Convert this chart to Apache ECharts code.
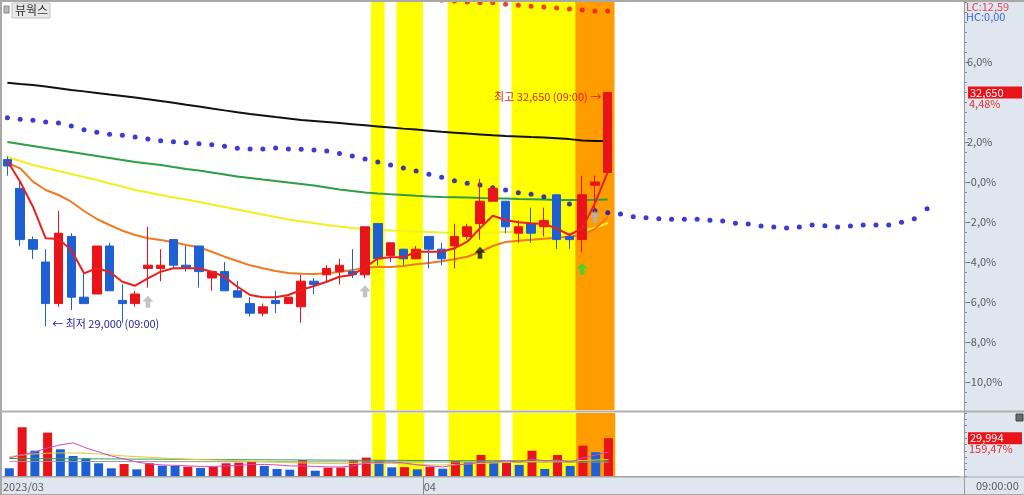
<!DOCTYPE html>
<html><head><meta charset="utf-8">
<script src="https://cdn.jsdelivr.net/npm/echarts@6/dist/echarts.min.js"></script>
<style>html,body{margin:0;padding:0;background:#fff}#c{width:1024px;height:495px}</style>
</head><body><div id="c"></div>
<script>
// ---------- data ----------
const BASE = 31250;               // 0% reference price
const SLOTS = 75;                 // category slots (incl. future area)
// candles: [open, close, low, high]
const candles = [
 [31600,31500,31350,31650],[31150,30350,30250,31250],[30350,30200,30050,30400],[30000,29350,29000,30200],
 [29350,30450,29300,30800],[30400,29450,29250,30450],[29450,29350,29350,29850],[29500,30250,29500,30250],
 [30250,29550,29550,30300],[29400,29350,29050,29650],[29350,29500,29300,29550],[29900,29950,29600,30550],
 [29900,29950,29700,30200],[30350,29950,29900,30350],[29950,29900,29850,30250],[30250,29850,29600,30250],
 [29750,29850,29550,29850],[29850,29550,29550,30000],[29550,29450,29450,29700],[29350,29200,29150,29450],
 [29200,29300,29150,29350],[29400,29350,29200,29550],[29350,29450,29350,29450],[29300,29700,29050,29800],
 [29700,29650,29500,29750],[29800,29900,29700,29950],[29850,29950,29650,30050],[29850,29800,29750,30200],
 [29800,30550,29750,30550],[30600,30050,29950,30600],[30100,30300,30000,30300],[30200,30050,29950,30200],
 [30050,30200,30050,30250],[30400,30200,29900,30400],[30200,30050,29950,30300],[30250,30400,29900,30600],
 [30400,30550,30350,30600],[30600,30950,30350,31300],[30950,31150,30950,31200],[30950,30550,30450,30950],
 [30450,30550,30300,30650],[30600,30450,30300,30850],[30550,30650,30400,30850],[31050,30350,30200,31050],
 [30400,30350,30200,30450],[30350,31050,30150,31350],[31200,31250,30800,31350],[31400,32650,31400,32650]
];
const ma5 = [31578,31255,30864,30370,30359,30188,29823,29902,29848,29692,29630,29745,29848,29902,29902,29902,
 29848,29770,29614,29484,29448,29448,29484,29563,29625,29692,29770,29797,29917,30055,30073,30073,
 30161,30161,30161,30214,30317,30527,30723,30656,30620,30605,30594,30527,30422,30527,30917,31406];
const ma10 = [31547,31464,31255,31125,31047,30942,30797,30672,30578,30489,30422,30370,30344,30308,30266,30230,
 30161,30083,30016,29948,29902,29859,29828,29817,29813,29823,29844,29875,29906,29927,29922,29938,
 29964,29984,30011,30042,30083,30156,30250,30313,30333,30348,30364,30380,30395,30422,30516,30703];
const ma20 = [31641,31578,31516,31469,31422,31375,31328,31281,31227,31180,31125,31086,31047,31008,30977,30938,
 30898,30859,30820,30781,30742,30703,30664,30633,30609,30578,30555,30531,30516,30500,30492,30484,
 30477,30469,30461,30453,30453,30453,30461,30469,30469,30469,30469,30461,30453,30484,30531,30609];
const ma60 = [31875,31844,31813,31781,31750,31719,31688,31656,31625,31594,31563,31539,31516,31484,31453,31430,
 31398,31367,31336,31313,31289,31266,31242,31219,31195,31164,31133,31109,31086,31070,31058,31047,
 31034,31023,31016,31011,31006,31000,30995,30991,30984,30980,30975,30969,30969,30969,30972,30977];
const ma120 = [32800,32781,32766,32741,32716,32689,32666,32642,32617,32594,32569,32544,32517,32489,32458,32428,
 32398,32369,32341,32314,32289,32264,32241,32217,32202,32186,32170,32153,32136,32119,32101,32084,
 32069,32052,32034,32020,32006,31994,31981,31969,31961,31952,31945,31933,31920,31897,31892,31891];
// forward-shifted span (blue dots), indices 0..72
const spanBlue = [32255,32230,32214,32188,32172,32125,32067,32027,31995,31980,31953,31922,31895,31880,31864,31848,
 31833,31808,31777,31766,31766,31781,31766,31761,31750,31734,31695,31656,31609,31563,31516,31469,
 31422,31370,31323,31270,31230,31203,31161,31125,31083,31058,31020,30969,30906,30864,30801,30770,
 30750,30708,30692,30677,30667,30667,30667,30652,30641,30605,30594,30563,30547,30531,30547,30578,
 30567,30547,30563,30578,30578,30578,30620,30677,30833];
// red dots (start index 34)
const spanRedStart = 34;
const spanRed = [34090,34078,34063,34052,34052,34027,34011,33995,33984,33969,33953,33938,33922,33922];
// volume
const volume = [6100,38700,20100,34400,21200,15900,14100,10100,6100,9500,5300,10100,8200,8000,7400,6400,
 7400,10100,10600,11100,8000,5600,5000,12700,4200,6600,6700,12700,14600,12200,6900,7000,
 5300,7400,5800,11900,10900,16700,10600,10700,8800,20100,5600,16700,8000,24100,18900,29994];
const volUp = [0,1,0,1,0,0,0,0,0,1,0,1,0,0,1,0,1,1,1,1,0,0,0,1,0,1,1,1,1,0,0,1,0,1,0,1,0,1,0,1,0,1,0,1,0,1,0,1];
const volMa5 = [14300,16700,19100,22300,24700,26300,22300,19100,15900,13500,11100,9500,8800,8400,8000,7600,
 7600,8000,8400,9200,9200,8800,8000,8000,7600,7200,7200,8000,10300,11100,11100,10300,
 8800,8000,7200,8800,9500,11100,11100,11900,11100,13500,11900,12700,11100,14300,16700,19100];
const volMa20 = [15360,16710,17500,18060,18300,18300,18060,17500,16710,15910,15360,14880,14320,13760,13290,12970,
 12730,12490,12170,11770,11380,10980,10580,10340,10100,9950,9790,9950,10100,10100,9950,9550,
 9150,8750,8750,9150,9550,9950,10340,10740,11140,11540,11540,11930,11930,12330,12730,13130];
const volMa60 = [13900,13900,13800,13800,13700,13700,13600,13600,13500,13500,13400,13400,13300,13300,13200,13100,
 13100,13000,13000,12900,12900,12800,12800,12700,12700,12600,12600,12500,12500,12500,12400,12400,
 12300,12300,12300,12200,12200,12200,12100,12100,12100,12000,12000,12000,12000,12000,12000,12000];
const volMa120 = [11600,11600,11600,11550,11550,11550,11500,11500,11500,11450,11450,11450,11400,11400,11400,11400,
 11350,11350,11350,11300,11300,11300,11300,11250,11250,11250,11200,11200,11200,11200,11150,11150,
 11150,11150,11100,11100,11100,11100,11100,11050,11050,11050,11050,11000,11000,11000,11000,11000];
// highlight bands: 0 none, 1 yellow, 2 orange
const bands = [0,0,0,0,0,0,0,0,0,0,0,0,0,0,0,0,0,0,0,0,0,0,0,0,0,0,0,0,0,1,0,1,1,0,0,1,1,1,1,0,1,1,1,1,1,2,2,2];
// signal arrows: [index, price, type] type 0 gray,1 black,2 green
const arrows = [[11,29380,0],[28,29542,0],[46,30708,0],[37,30144,1],[45,29894,2]];
const yLabelPcts = [6,2,0,-2,-4,-6,-8,-10];
const xTickIdx = [0,33];
const xTickText = ['2023/03','04'];
const lowIdx = 3, lowVal = 29000, highIdx = 47, highVal = 32650;
const lcText = 'LC:12,59', hcText = 'HC:0,00', volPctText = '159,47%', timeText = '09:00:00', title = '뷰웍스';

// ---------- helpers ----------
const RED = '#e8141a', BLUE = '#1f5fd4';
const FONT = '"Noto Sans CJK KR","Noto Sans",sans-serif';
const fmt = v => v.toLocaleString('en-US');
const pctOf = v => (v / BASE - 1) * 100;
const pctStr = p => (p < 0.00001 ? '-' : '') + Math.abs(p).toFixed(1).replace('.', ',') + '%';
const yMax = BASE * 1.091, yMin = BASE * (1 - 0.114);
const cats = Array.from({length: SLOTS}, (_, i) => String(i));
const bounds = Array.from({length: SLOTS + 1}, (_, i) => String(i));
const minorTicks = [];
for (let p = -11; p <= 9; p += 0.5) minorTicks.push(BASE * (1 + p / 100));
const volTicks = [];
for (let v = 0; v <= 50000; v += 5000) volTicks.push(v);
const bandColor = t => t === 1 ? '#ffff00' : '#ff9c00';

const GL = 1, GW = 958;
const option = {
  animation: false,
  backgroundColor: '#fff',
  textStyle: {fontFamily: FONT},
  grid: [
    {left: GL, width: GW, top: 0, height: 410},
    {left: GL, width: GW, top: 413, height: 63}
  ],
  xAxis: [
    {gridIndex: 0, type: 'category', data: cats, show: false},
    {gridIndex: 1, type: 'category', data: cats, show: false},
    {gridIndex: 1, type: 'category', data: cats, show: false},
    {gridIndex: 0, type: 'category', data: cats, show: false},
    {gridIndex: 1, type: 'category', data: bounds, boundaryGap: false, position: 'bottom',
     axisLine: {show: true, lineStyle: {color: '#9a9a9a'}},
     axisTick: {show: true, interval: (i) => xTickIdx.indexOf(i) > 0, length: 18, lineStyle: {color: '#8a8a8a'}},
     axisLabel: {interval: 0, align: 'left', margin: 5, color: '#606060', fontSize: 11, fontFamily: FONT,
       formatter: (v, i) => { const k = xTickIdx.indexOf(i); return k >= 0 ? xTickText[k] : ''; }},
     splitLine: {show: false}}
  ],
  yAxis: [
    {gridIndex: 0, type: 'value', position: 'right', offset: 5, min: yMin, max: yMax,
     axisLine: {show: true, lineStyle: {color: '#9a9a9a'}},
     axisTick: {show: true, length: 5, customValues: yLabelPcts.map(p => BASE * (1 + p / 100)), lineStyle: {color: '#7a7a7a'}},
     axisLabel: {customValues: yLabelPcts.map(p => BASE * (1 + p / 100)), margin: 3, color: '#5a5a5a', fontSize: 11,
       fontFamily: FONT, formatter: v => pctStr(pctOf(v))},
     splitLine: {show: false}},
    {gridIndex: 0, type: 'value', min: 0, max: 1, show: false},
    {gridIndex: 1, type: 'value', position: 'right', offset: 5, min: 0, max: 50000,
     axisLine: {show: true, lineStyle: {color: '#9a9a9a'}},
     axisTick: {show: true, length: 3, customValues: volTicks, lineStyle: {color: '#8a8a8a'}},
     axisLabel: {show: false}, splitLine: {show: false}},
    {gridIndex: 1, type: 'value', min: 0, max: 1, show: false},
    {gridIndex: 0, type: 'value', position: 'right', offset: 5, min: yMin, max: yMax,
     axisLine: {show: false}, axisLabel: {show: false}, splitLine: {show: false},
     axisTick: {show: true, length: 3, customValues: minorTicks, lineStyle: {color: '#8a8a8a'}}}
  ],
  series: [
    {type: 'bar', xAxisIndex: 3, yAxisIndex: 1, barWidth: 13.6, silent: true, z: 1,
     data: bands.map(t => t ? {value: 1, itemStyle: {color: bandColor(t)}} : '-')},
    {type: 'bar', xAxisIndex: 2, yAxisIndex: 3, barWidth: 13.6, silent: true, z: 1,
     data: bands.map(t => t ? {value: 1, itemStyle: {color: bandColor(t)}} : '-')},
    {type: 'line', data: ma120, showSymbol: false, lineStyle: {color: '#111', width: 2}, z: 3},
    {type: 'line', data: ma60, showSymbol: false, lineStyle: {color: '#2e9e46', width: 2}, z: 3},
    {type: 'line', data: ma20, showSymbol: false, lineStyle: {color: '#f2f020', width: 2}, z: 3},
    {type: 'line', data: ma10, showSymbol: false, lineStyle: {color: '#f07a22', width: 2}, z: 3},
    {type: 'scatter', data: spanBlue.map((v, i) => [i, v]), symbolSize: 5, itemStyle: {color: '#0a0ac4'}, z: 3},
    {type: 'scatter', data: spanRed.map((v, i) => [i + spanRedStart, v]), symbolSize: 5, itemStyle: {color: '#ec1010'}, z: 3},
    {type: 'candlestick', data: candles, barWidth: 9, z: 4,
     itemStyle: {color: RED, color0: BLUE, borderColor: RED, borderColor0: BLUE, borderWidth: 1},
     markPoint: {symbol: 'circle', symbolSize: 1, itemStyle: {color: 'rgba(0,0,0,0)'}, data: [
       {coord: [lowIdx, lowVal], label: {show: true, position: 'right', distance: 6, offset: [0, -2],
        formatter: '← 최저 ' + fmt(lowVal) + ' (09:00)', color: '#1c1ca4', fontSize: 11, fontFamily: FONT}},
       {coord: [highIdx, highVal], label: {show: true, position: 'left', distance: 6, offset: [0, 4],
        formatter: '최고 ' + fmt(highVal) + ' (09:00) →', color: '#e02020', fontSize: 11, fontFamily: FONT}}
     ]}},
    {type: 'line', data: ma5, showSymbol: false, lineStyle: {color: '#e82020', width: 2}, z: 5},
    {type: 'scatter', z: 6, symbol: 'path://M6,0 L12,6 L8.5,6 L8.5,12 L3.5,12 L3.5,6 L0,6 Z', symbolSize: [11, 12],
     data: arrows.map(a => ({value: [a[0], a[1]], itemStyle: {color: ['#b4b4b4', '#111111', '#22e03a'][a[2]]}}))},
    {type: 'bar', xAxisIndex: 1, yAxisIndex: 2, barWidth: 9, z: 3,
     data: volume.map((v, i) => ({value: v, itemStyle: {color: volUp[i] ? RED : BLUE}}))},
    {type: 'line', xAxisIndex: 1, yAxisIndex: 2, data: volMa120, showSymbol: false, lineStyle: {color: '#9a9a9a', width: 1}, z: 4},
    {type: 'line', xAxisIndex: 1, yAxisIndex: 2, data: volMa60, showSymbol: false, lineStyle: {color: '#3a9e50', width: 1}, z: 4},
    {type: 'line', xAxisIndex: 1, yAxisIndex: 2, data: volMa20, showSymbol: false, lineStyle: {color: '#d8cf30', width: 1}, z: 4},
    {type: 'line', xAxisIndex: 1, yAxisIndex: 2, data: volMa5, showSymbol: false, lineStyle: {color: '#d048c8', width: 1}, z: 4}
  ]
};

const chart = echarts.init(document.getElementById('c'));
chart.setOption(option);

const lastClose = candles[candles.length - 1][1];
const lastVol = volume[volume.length - 1];
const yP = chart.convertToPixel({yAxisIndex: 0}, lastClose);
const yV = chart.convertToPixel({yAxisIndex: 2}, lastVol);
const AX = 964;
const lastPct = ((lastClose / BASE - 1) * 100).toFixed(2).replace('.', ',') + '%';
const g = [
  {type: 'rect', z: -1, shape: {x: AX, y: 0, width: 1024 - AX, height: 495}, style: {fill: '#dfe6ef'}},
  {type: 'rect', z: -1, shape: {x: 0, y: 477, width: AX, height: 18}, style: {fill: '#dfe6ef'}},
  {type: 'line', z: 50, shape: {x1: 0, y1: 1, x2: 1024, y2: 1}, style: {stroke: '#a8a8a8', lineWidth: 2}},
  {type: 'line', z: 50, shape: {x1: 1, y1: 0, x2: 1, y2: 495}, style: {stroke: '#a8a8a8', lineWidth: 2}},
  {type: 'line', z: 50, shape: {x1: 0, y1: 411.5, x2: 1024, y2: 411.5}, style: {stroke: '#b0b0b0', lineWidth: 2}},
  {type: 'line', z: 50, shape: {x1: 0, y1: 477, x2: 1024, y2: 477}, style: {stroke: '#a8a8a8', lineWidth: 1}},
  {type: 'line', z: 50, shape: {x1: 0, y1: 494.5, x2: 1024, y2: 494.5}, style: {stroke: '#a8a8a8', lineWidth: 1}},
  {type: 'line', z: 50, shape: {x1: AX + 0.5, y1: 0, x2: AX + 0.5, y2: 495}, style: {stroke: '#9a9a9a', lineWidth: 1}},
  {type: 'rect', z: 50, shape: {x: 4, y: 6, width: 5, height: 7}, style: {fill: '#b8b8b8', stroke: '#8a8a8a', lineWidth: 1}},
  {type: 'rect', z: 50, shape: {x: 12, y: 3, width: 38, height: 15}, style: {fill: '#e8e8e8', stroke: '#c4c4c4', lineWidth: 1}},
  {type: 'text', z: 51, style: {text: title, x: 15, y: 10.5, verticalAlign: 'middle', fill: '#333', font: '12px ' + FONT}},
  {type: 'text', z: 51, style: {text: lcText, x: 966, y: 7, verticalAlign: 'middle', fill: '#e04848', font: '11px ' + FONT}},
  {type: 'text', z: 51, style: {text: hcText, x: 966, y: 17, verticalAlign: 'middle', fill: '#3a6cc8', font: '11px ' + FONT}},
  {type: 'rect', z: 50, shape: {x: 968, y: yP - 6, width: 54, height: 12}, style: {fill: '#e8141a'}},
  {type: 'text', z: 51, style: {text: fmt(lastClose), x: 970, y: yP, verticalAlign: 'middle', fill: '#fff', font: '11px ' + FONT}},
  {type: 'text', z: 51, style: {text: lastPct, x: 969, y: yP + 11, verticalAlign: 'middle', fill: '#e03030', font: '11px ' + FONT}},
  {type: 'rect', z: 50, shape: {x: 968, y: yV - 6, width: 54, height: 12}, style: {fill: '#e8141a'}},
  {type: 'text', z: 51, style: {text: fmt(lastVol), x: 970, y: yV, verticalAlign: 'middle', fill: '#fff', font: '11px ' + FONT}},
  {type: 'text', z: 51, style: {text: volPctText, x: 969, y: yV + 11, verticalAlign: 'middle', fill: '#e03030', font: '11px ' + FONT}},
  {type: 'rect', z: 50, shape: {x: 1016, y: 414, width: 7, height: 7}, style: {fill: '#6a6a6a', stroke: '#444', lineWidth: 1}},
  {type: 'text', z: 51, style: {text: timeText, x: 976, y: 486, verticalAlign: 'middle', fill: '#5a5a5a', font: '11px ' + FONT}}
];
chart.setOption({graphic: g});
</script>
</body></html>
